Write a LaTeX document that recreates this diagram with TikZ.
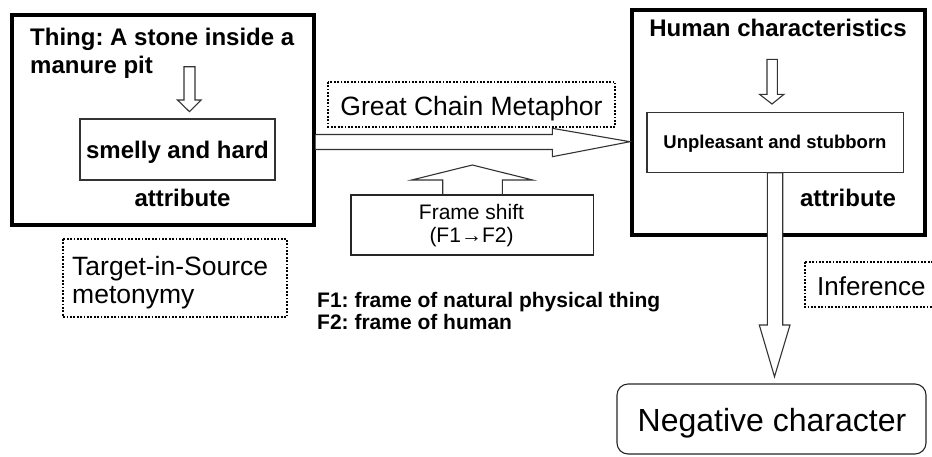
\documentclass[tikz,border=0pt]{standalone}
\usepackage{fontspec}
\setmainfont{Liberation Sans}
\frenchspacing
\begin{document}
\begin{tikzpicture}[x=1pt,y=-1pt,
  bigbox/.style={draw, line width=4pt, minimum width=0pt},
  innerbox/.style={draw=black!80, line width=1.5pt, fill=white},
  thinbox/.style={draw=black!85, line width=1.1pt, fill=white},
  dotbox/.style={draw=black, line width=2pt, dash pattern=on 1.8pt off 1.6pt},
  blockarrow/.style={draw=black!80, line width=1.1pt, fill=white, line join=miter},
  bt/.style={font=\bfseries\fontsize{24}{28}\selectfont, inner sep=0pt, anchor=base},
  rt/.style={font=\fontsize{26.5}{28}\selectfont, inner sep=0pt, anchor=base},
]
\useasboundingbox (0,0) rectangle (932,456);
\clip (0,0) rectangle (932,456);

% left big box
\draw[bigbox] (12,15) rectangle (313.5,225);
\node[bt, anchor=base west] (t1) at (30,45) {Thing: A stone inside a};
\node[bt, anchor=base west] (t2) at (30,73) {manure pit};
% small down arrow left
\draw[blockarrow] (184,66.7) -- (195,66.7) -- (195,100) -- (201,100) -- (189.5,111.7)
  -- (177.5,100) -- (184,100) -- cycle;
% inner left box
\draw[innerbox] (80,119) rectangle (275,180);
\node[bt] (smelly) at (177.5,158) {smelly and hard};
\node[bt] (attrL) at (182.5,206) {attribute};

% right big box
\draw[bigbox] (632,10) rectangle (925,234.5);
\node[bt] (human) at (778,36) {Human characteristics};
\draw[blockarrow] (767,59.3) -- (777.3,59.3) -- (777.3,94.3) -- (784,94.3) -- (772,104)
  -- (759.5,94.3) -- (767,94.3) -- cycle;
\draw[innerbox] (647,112.7) rectangle (903.5,172.7);
\node[bt, font=\bfseries\fontsize{18.5}{22}\selectfont] (unp) at (775,148.3) {Unpleasant and stubborn};
\node[bt] (attrR) at (848,206.7) {attribute};

% big down arrow
\draw[blockarrow] (767.3,172.7) -- (782.7,172.7) -- (782.7,325) -- (790,325) -- (774.5,376.7)
  -- (759.3,325) -- (767.3,325) -- cycle;

% big right arrow
\draw[blockarrow] (315.5,134.5) -- (552.3,134.5) -- (552.3,128.3) -- (630,141.7)
  -- (552.3,156.7) -- (552.3,149.5) -- (315.5,149.5);

% Great Chain Metaphor
\draw[dotbox] (328.3,81.7) rectangle (615,126.7);
\node[rt] (gcm) at (471.5,115) {Great Chain Metaphor};

% frame shift up arrow and box
\draw[blockarrow] (442.7,200) -- (442.7,180) -- (411.7,180) -- (472.3,165) -- (532.7,180)
  -- (502.3,180) -- (502.3,200);
\draw[thinbox] (351,195) rectangle (593.3,255);
\node[bt, font=\fontsize{21}{23}\selectfont] (fs1) at (471.5,219) {Frame shift};
\node[bt, font=\fontsize{21}{23}\selectfont] (fs2) at (471.5,242) {(F1→F2)};

% Target-in-Source metonymy
\draw[dotbox] (63,239) rectangle (287,317);
\node[rt, anchor=base west] (tis1) at (72,275) {Target-in-Source};
\node[rt, anchor=base west] (tis2) at (72,303) {metonymy};

% F1/F2 legend
\node[bt, anchor=base west, font=\bfseries\fontsize{21}{22}\selectfont] (f1) at (317,307) {F1: frame of natural physical thing};
\node[bt, anchor=base west, font=\bfseries\fontsize{21}{22}\selectfont] (f2) at (317,329) {F2: frame of human};

% Inference
\draw[dotbox] (805,262) rectangle (960,307);
\node[rt, anchor=base west, font=\fontsize{26}{28}\selectfont] (inf) at (817,295) {Inference};

% Negative character
\draw[thinbox, rounded corners=11pt] (617,384) rectangle (926,454);
\node[rt, font=\fontsize{32}{34}\selectfont] (neg) at (772,431.7) {Negative character};
\end{tikzpicture}
\end{document}
